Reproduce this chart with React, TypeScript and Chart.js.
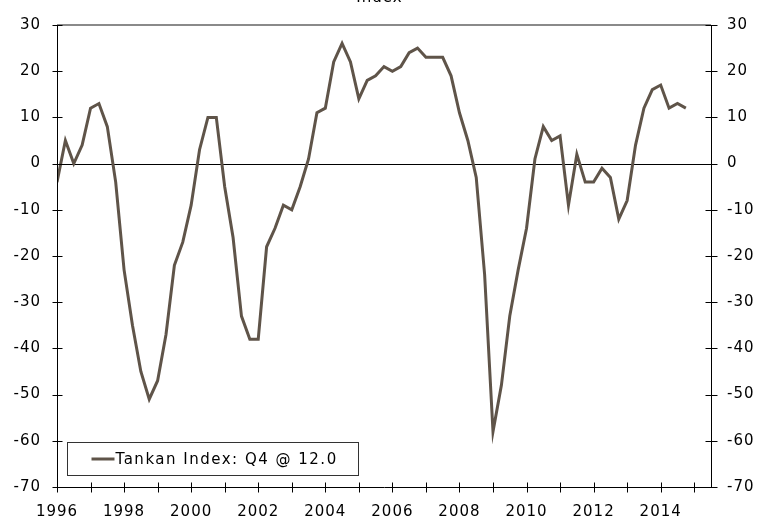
import { useEffect, useRef } from 'react';
import { Chart, registerables } from 'chart.js';

Chart.register(...registerables);

const TITLE = 'Index';
const SERIES_LABEL = 'Tankan Index: Q4 @ 12.0';
const START_YEAR = 1996;

// Quarterly Tankan index, 1996 Q1 .. 2014 Q4
const TANKAN = [
  -4, 5, 0, 4, // 1996
  12, 13, 8, -4, // 1997
  -23, -35, -45, -51, // 1998
  -47, -37, -22, -17, // 1999
  -9, 3, 10, 10, // 2000
  -5, -16, -33, -38, // 2001
  -38, -18, -14, -9, // 2002
  -10, -5, 1, 11, // 2003
  12, 22, 26, 22, // 2004
  14, 18, 19, 21, // 2005
  20, 21, 24, 25, // 2006
  23, 23, 23, 19, // 2007
  11, 5, -3, -24, // 2008
  -58, -48, -33, -23, // 2009
  -14, 1, 8, 5, // 2010
  6, -9, 2, -4, // 2011
  -4, -1, -3, -12, // 2012
  -8, 4, 12, 16, // 2013
  17, 12, 13, 12, // 2014
];

const X_TICK_YEARS = [
  1996, 1997, 1998, 1999, 2000, 2001, 2002, 2003, 2004, 2005,
  2006, 2007, 2008, 2009, 2010, 2011, 2012, 2013, 2014, 2015,
];
const X_LABEL_YEARS = [1996, 1998, 2000, 2002, 2004, 2006, 2008, 2010, 2012, 2014];
const Y_TICKS = [-70, -60, -50, -40, -30, -20, -10, 0, 10, 20, 30];

const X_MIN = 1996;
const X_MAX = 2015.5;
const Y_MIN = -70;
const Y_MAX = 30;

const FONT = '"DejaVu Sans", Verdana, sans-serif';
const LINE_COLOR = '#5f5449';

const chartDecor = {
  id: 'chartDecor',
  beforeDraw(chart: any) {
    chart.ctx.letterSpacing = '1px';
  },
  beforeDatasetsDraw(chart: any) {
    const { ctx, chartArea } = chart;
    const y0 = chart.scales.y.getPixelForValue(0);
    ctx.save();
    ctx.strokeStyle = '#000';
    ctx.lineWidth = 1;
    ctx.beginPath();
    ctx.moveTo(chartArea.left, Math.round(y0) + 0.5);
    ctx.lineTo(chartArea.right, Math.round(y0) + 0.5);
    ctx.stroke();
    // top border (gray)
    ctx.strokeStyle = '#8a8a8a';
    ctx.lineWidth = 2;
    ctx.beginPath();
    ctx.moveTo(chartArea.left, chartArea.top);
    ctx.lineTo(chartArea.right, chartArea.top);
    ctx.stroke();
    ctx.restore();
  },
  afterDatasetsDraw(chart: any) {
    const { ctx, chartArea } = chart;
    const xs = chart.scales.x;
    const ys = chart.scales.y;
    const L = Math.round(chartArea.left) + 0.5;
    const R = Math.round(chartArea.right) + 0.5;
    const B = Math.round(chartArea.bottom) + 0.5;
    const T = chartArea.top;
    ctx.save();
    ctx.strokeStyle = '#000';
    ctx.lineWidth = 1;
    ctx.beginPath();
    // axes
    ctx.moveTo(L, T);
    ctx.lineTo(L, B);
    ctx.lineTo(R, B);
    ctx.lineTo(R, T);
    // x ticks (crossing)
    X_TICK_YEARS.forEach((yr) => {
      const px = Math.round(xs.getPixelForValue(yr)) + 0.5;
      ctx.moveTo(px, B - 5);
      ctx.lineTo(px, B + 5);
    });
    // y ticks (crossing) both sides
    Y_TICKS.forEach((v) => {
      const py = Math.round(ys.getPixelForValue(v)) + 0.5;
      ctx.moveTo(L - 5, py);
      ctx.lineTo(L + 5, py);
      ctx.moveTo(R - 6, py);
      ctx.lineTo(R + 6, py);
    });
    ctx.stroke();
    ctx.restore();
  },
  afterDraw(chart: any) {
    const { ctx, chartArea } = chart;
    ctx.save();
    ctx.letterSpacing = '1px';
    // Title (mostly cut at top)
    ctx.fillStyle = '#000';
    ctx.font = `15px ${FONT}`;
    ctx.textAlign = 'center';
    ctx.textBaseline = 'alphabetic';
    ctx.fillText(TITLE, chart.width / 2 + 1, 2);

    // Legend box inside plot
    const bx = Math.round(chartArea.left + 10) + 0.5;
    const bw = 291;
    const bh = 33;
    const by = Math.round(chartArea.bottom - 45) + 0.5;
    ctx.fillStyle = '#fff';
    ctx.fillRect(bx, by, bw, bh);
    ctx.strokeStyle = '#333';
    ctx.lineWidth = 1;
    ctx.strokeRect(bx, by, bw, bh);
    const ly = by + bh / 2;
    ctx.strokeStyle = LINE_COLOR;
    ctx.lineWidth = 3;
    ctx.beginPath();
    ctx.moveTo(bx + 24, ly);
    ctx.lineTo(bx + 47, ly);
    ctx.stroke();
    ctx.fillStyle = '#000';
    ctx.textAlign = 'left';
    ctx.textBaseline = 'middle';
    ctx.letterSpacing = '1.5px';
    ctx.fillText(SERIES_LABEL, bx + 48, ly + 1);
    ctx.restore();
  },
};

export default function App() {
  const canvasRef = useRef<HTMLCanvasElement | null>(null);

  useEffect(() => {
    const canvas = canvasRef.current;
    if (!canvas) return;
    const points = TANKAN.map((v, i) => ({ x: START_YEAR + i / 4, y: v }));
    const tickFont = { family: FONT, size: 15 };

    const chart = new Chart(canvas, {
      type: 'line',
      data: {
        datasets: [
          {
            label: SERIES_LABEL,
            data: points,
            borderColor: LINE_COLOR,
            backgroundColor: LINE_COLOR,
            borderWidth: 3,
            pointRadius: 0,
            tension: 0,
            fill: false,
          },
        ],
      },
      options: {
        responsive: false,
        animation: false,
        devicePixelRatio: 1,
        layout: { padding: { top: 25, left: 0, right: 0, bottom: 0 } },
        plugins: {
          legend: { display: false },
          tooltip: { enabled: false },
          title: { display: false },
        },
        scales: {
          x: {
            type: 'linear',
            min: X_MIN,
            max: X_MAX,
            grid: { display: false, drawTicks: false },
            border: { display: false },
            afterBuildTicks: (s: any) => {
              s.ticks = X_TICK_YEARS.map((v) => ({ value: v }));
            },
            afterFit: (s: any) => {
              s.height = 29;
            },
            ticks: {
              autoSkip: false,
              maxRotation: 0,
              minRotation: 0,
              padding: 16,
              color: '#000',
              font: tickFont,
              callback: (v: any) => (X_LABEL_YEARS.includes(Number(v)) ? String(v) : ''),
            },
          },
          y: {
            type: 'linear',
            position: 'left',
            min: Y_MIN,
            max: Y_MAX,
            grid: { display: false, drawTicks: false },
            border: { display: false },
            afterBuildTicks: (s: any) => {
              s.ticks = Y_TICKS.map((v) => ({ value: v }));
            },
            afterFit: (s: any) => {
              s.width = 57;
            },
            ticks: {
              padding: 16,
              color: '#000',
              font: tickFont,
              callback: (v: any) => String(v),
            },
          },
          y2: {
            type: 'linear',
            position: 'right',
            min: Y_MIN,
            max: Y_MAX,
            grid: { display: false, drawTicks: false },
            border: { display: false },
            afterBuildTicks: (s: any) => {
              s.ticks = Y_TICKS.map((v) => ({ value: v }));
            },
            afterFit: (s: any) => {
              s.width = 46;
            },
            ticks: {
              padding: 16,
              color: '#000',
              font: tickFont,
              callback: (v: any) => String(v),
            },
          },
        },
      },
      plugins: [chartDecor],
    });

    return () => {
      chart.destroy();
    };
  }, []);

  return (
    <div style={{ position: 'absolute', left: 0, top: 0, width: 757, height: 516, background: '#fff' }}>
      <canvas ref={canvasRef} width={757} height={516} style={{ display: 'block' }} />
    </div>
  );
}
